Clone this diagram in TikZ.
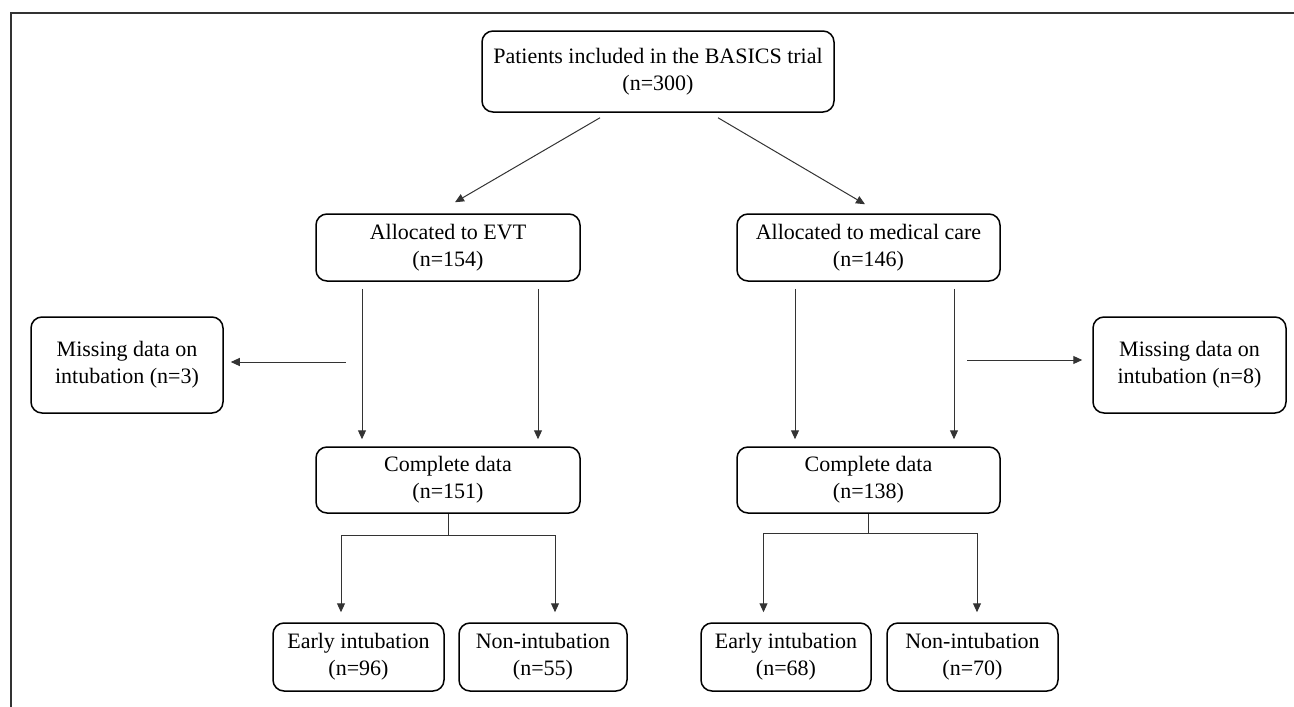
\documentclass[tikz,border=0pt]{standalone}
\usepackage{fontspec}
\setmainfont{Liberation Serif}
\usetikzlibrary{arrows.meta}

\begin{document}
\begin{tikzpicture}[x=1pt,y=-1pt,
  box/.style={draw=black, line width=1.5pt, rounded corners=11pt, align=center,
    inner sep=0pt, font=\fontsize{22}{27}\selectfont},
  link/.style={draw=black!80, line width=1pt},
  arr/.style={link, -{Triangle[length=9pt,width=8pt]}}]
  % Frame
  \useasboundingbox (0,0) rectangle (1294,707);
  \draw[line width=2.5pt, black!80] (1294,13) -- (11,13) -- (11,707);

  % Boxes
  \node[box, minimum width=352pt, minimum height=81pt] (trial) at (658,71.5)
    {Patients included in the BASICS trial\\(n=300)};
  \node[box, minimum width=264pt, minimum height=67pt] (evt) at (448,247.5)
    {Allocated to EVT\\(n=154)};
  \node[box, minimum width=263pt, minimum height=67pt] (medical) at (868.5,247.5)
    {Allocated to medical care\\(n=146)};
  \node[box, minimum width=192pt, minimum height=96pt] (missevt) at (127,365)
    {Missing data on\\intubation (n=3)};
  \node[box, minimum width=193pt, minimum height=96pt] (missmed) at (1189.5,365)
    {Missing data on\\intubation (n=8)};
  \node[box, minimum width=264pt, minimum height=66pt] (compevt) at (448,480)
    {Complete data\\(n=151)};
  \node[box, minimum width=263pt, minimum height=66pt] (compmed) at (868.5,480)
    {Complete data\\(n=138)};
  \node[box, minimum width=171pt, minimum height=68pt] (earlyevt) at (358.5,657)
    {Early intubation\\(n=96)};
  \node[box, minimum width=168pt, minimum height=68pt] (nonevt) at (543,657)
    {Non-intubation\\(n=55)};
  \node[box, minimum width=170pt, minimum height=68pt] (earlymed) at (786,657)
    {Early intubation\\(n=68)};
  \node[box, minimum width=171pt, minimum height=68pt] (nonmed) at (972.5,657)
    {Non-intubation\\(n=70)};

  % Randomisation
  \draw[arr] ([shift={(-58,5)}]trial.south) -- ([shift={(7,-11)}]evt.north);
  \draw[arr] ([shift={(60,5)}]trial.south) -- ([shift={(-3.5,-9)}]medical.north);

  % EVT arm
  \draw[arr] ([shift={(-86,7)}]evt.south) -- ([shift={(-86,-7)}]compevt.north);
  \draw[arr] ([shift={(90,7)}]evt.south) -- ([shift={(90,-7)}]compevt.north);
  \draw[arr] ([shift={(122,-3)}]missevt.east) -- ([shift={(7,-3)}]missevt.east);
  \draw[arr] (compevt.south) -- ++(0,22) -| ([shift={(-17.5,-10)}]earlyevt.north);
  \draw[arr] (compevt.south) -- ++(0,22) -| ([shift={(12,-10)}]nonevt.north);

  % Medical care arm
  \draw[arr] ([shift={(-73.5,7)}]medical.south) -- ([shift={(-73.5,-7)}]compmed.north);
  \draw[arr] ([shift={(85.5,7)}]medical.south) -- ([shift={(85.5,-7)}]compmed.north);
  \draw[arr] ([shift={(-125,-5)}]missmed.west) -- ([shift={(-10,-5)}]missmed.west);
  \draw[arr] (compmed.south) -- ++(0,20) -| ([shift={(-22.5,-10)}]earlymed.north);
  \draw[arr] (compmed.south) -- ++(0,20) -| ([shift={(4.5,-10)}]nonmed.north);
\end{tikzpicture}
\end{document}
